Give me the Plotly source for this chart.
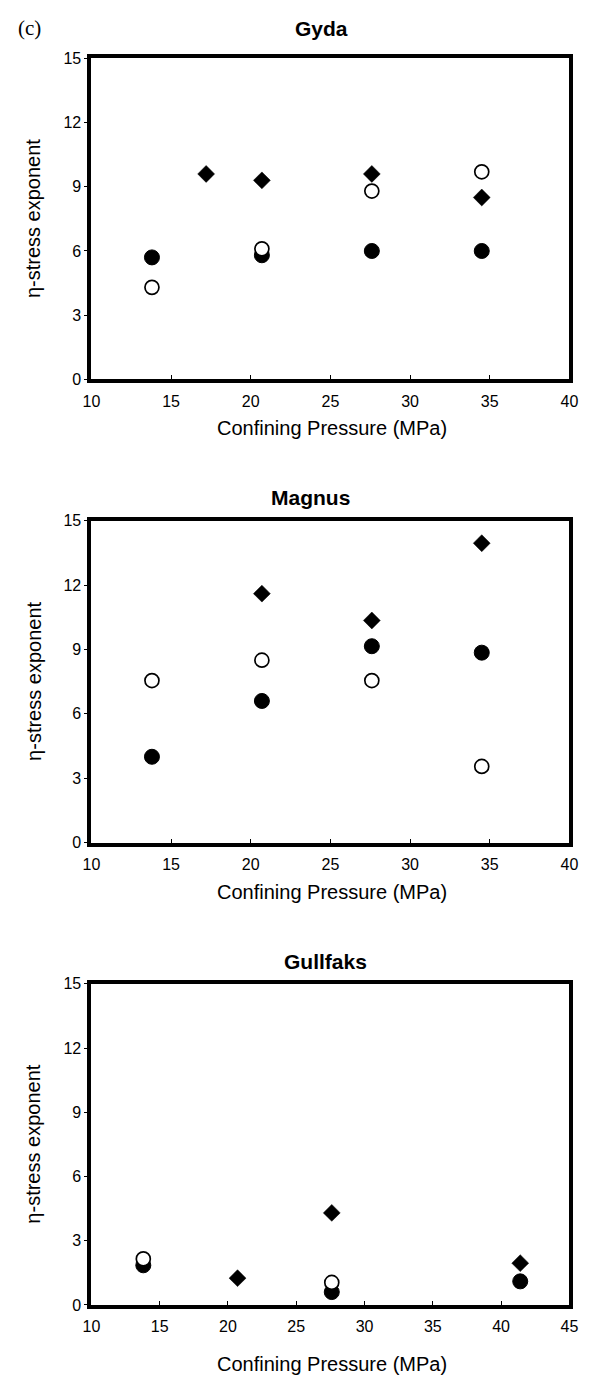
import plotly.graph_objects as go

# Confining pressure (MPa) and eta-stress exponents for each field.
# Three symbol series per panel: open circles, filled circles, filled diamonds.
gyda_open_x = [13.8, 20.7, 27.6, 34.5]
gyda_open_y = [4.3, 6.1, 8.8, 9.7]
gyda_fill_x = [13.8, 20.7, 27.6, 34.5]
gyda_fill_y = [5.7, 5.8, 6.0, 6.0]
gyda_diam_x = [17.2, 20.7, 27.6, 34.5]
gyda_diam_y = [9.6, 9.3, 9.6, 8.5]

magnus_open_x = [13.8, 20.7, 27.6, 34.5]
magnus_open_y = [7.55, 8.5, 7.55, 3.55]
magnus_fill_x = [13.8, 20.7, 27.6, 34.5]
magnus_fill_y = [4.0, 6.6, 9.15, 8.85]
magnus_diam_x = [20.7, 27.6, 34.5]
magnus_diam_y = [11.6, 10.35, 13.95]

gullfaks_open_x = [13.8, 27.6]
gullfaks_open_y = [2.15, 1.05]
gullfaks_fill_x = [13.8, 27.6, 41.4]
gullfaks_fill_y = [1.85, 0.6, 1.1]
gullfaks_diam_x = [20.7, 27.6, 41.4]
gullfaks_diam_y = [1.25, 4.3, 1.95]

panel_titles = ["Gyda", "Magnus", "Gullfaks"]
x_ranges = [[10, 40], [10, 40], [10, 45]]
y_ticks = [0, 3, 6, 9, 12, 15]

W, H = 591, 1387
FONT = "Liberation Sans, Arial, sans-serif"


def fx(px):
    return px / W


def fy(py):
    return 1 - py / H


# pixel frame of each panel: (top, bottom) of the plotting box
frames = [(51, 376), (519, 845), (988, 1313)]
x_left, x_right = 85, 578

panels = [
    (gyda_open_x, gyda_open_y, gyda_fill_x, gyda_fill_y, gyda_diam_x, gyda_diam_y),
    (magnus_open_x, magnus_open_y, magnus_fill_x, magnus_fill_y, magnus_diam_x, magnus_diam_y),
    (gullfaks_open_x, gullfaks_open_y, gullfaks_fill_x, gullfaks_fill_y, gullfaks_diam_x, gullfaks_diam_y),
]

fig = go.Figure()
annotations = []

for i, (ox, oy, fx_, fy_, dx, dy) in enumerate(panels):
    n = "" if i == 0 else str(i + 1)
    xa, ya = "x" + n, "y" + n
    fig.add_trace(go.Scatter(
        x=dx, y=dy, xaxis=xa, yaxis=ya, mode="markers", cliponaxis=False,
        marker=dict(symbol="diamond", size=13, color="black",
                    line=dict(color="black", width=0.5)),
        showlegend=False))
    fig.add_trace(go.Scatter(
        x=fx_, y=fy_, xaxis=xa, yaxis=ya, mode="markers", cliponaxis=False,
        marker=dict(symbol="circle", size=15, color="black",
                    line=dict(color="black", width=1)),
        showlegend=False))
    fig.add_trace(go.Scatter(
        x=ox, y=oy, xaxis=xa, yaxis=ya, mode="markers", cliponaxis=False,
        marker=dict(symbol="circle", size=14, color="white",
                    line=dict(color="black", width=1.7)),
        showlegend=False))

    top, bot = frames[i]
    lo, hi = x_ranges[i]
    fig.update_layout({
        "xaxis" + n: dict(
            domain=[fx(x_left), fx(x_right)], range=[lo, hi], anchor=ya,
            tickvals=list(range(lo, hi + 1, 5)), ticks="inside", ticklen=4,
            tickwidth=1, tickcolor="black", showline=True, linecolor="black",
            linewidth=4, mirror=True, showgrid=False, zeroline=False,
            ticklabelstandoff=4,
            tickfont=dict(family=FONT, size=16, color="black")),
        "yaxis" + n: dict(
            domain=[fy(bot), fy(top)], range=[0, 15], anchor=xa,
            tickvals=y_ticks, ticks="outside", ticklen=3, tickwidth=1,
            tickcolor="black", showline=True, linecolor="black", linewidth=4,
            mirror=True, showgrid=False, zeroline=False,
            tickfont=dict(family=FONT, size=16, color="black")),
    })

    title_y = [21, 496, 965][i]
    title_x = [322, 311, 326][i]
    annotations.append(dict(
        text="<b>" + panel_titles[i] + "</b>", x=fx(title_x), y=fy(title_y),
        xref="paper", yref="paper", showarrow=False, xanchor="center",
        yanchor="middle", font=dict(family=FONT, size=21, color="black")))
    xt_y = [425, 895, 1373][i]
    annotations.append(dict(
        text="Confining Pressure (MPa)", x=fx(333), y=fy(xt_y),
        xref="paper", yref="paper", showarrow=False, xanchor="center",
        yanchor="middle", font=dict(family=FONT, size=20, color="black")))
    annotations.append(dict(
        text="η-stress exponent", x=fx(25), y=fy((top + bot) / 2),
        xref="paper", yref="paper", showarrow=False, textangle=-90,
        xanchor="center", yanchor="middle",
        font=dict(family=FONT, size=20, color="black")))

annotations.append(dict(
    text="(c)", x=fx(21), y=fy(20), xref="paper", yref="paper",
    showarrow=False, xanchor="center", yanchor="middle",
    font=dict(family="Liberation Serif, Times New Roman, serif", size=21,
              color="black")))

fig.update_layout(
    width=W, height=H, margin=dict(l=0, r=0, t=0, b=0),
    paper_bgcolor="white", plot_bgcolor="white",
    annotations=annotations, showlegend=False)

fig.write_html("out.html")
